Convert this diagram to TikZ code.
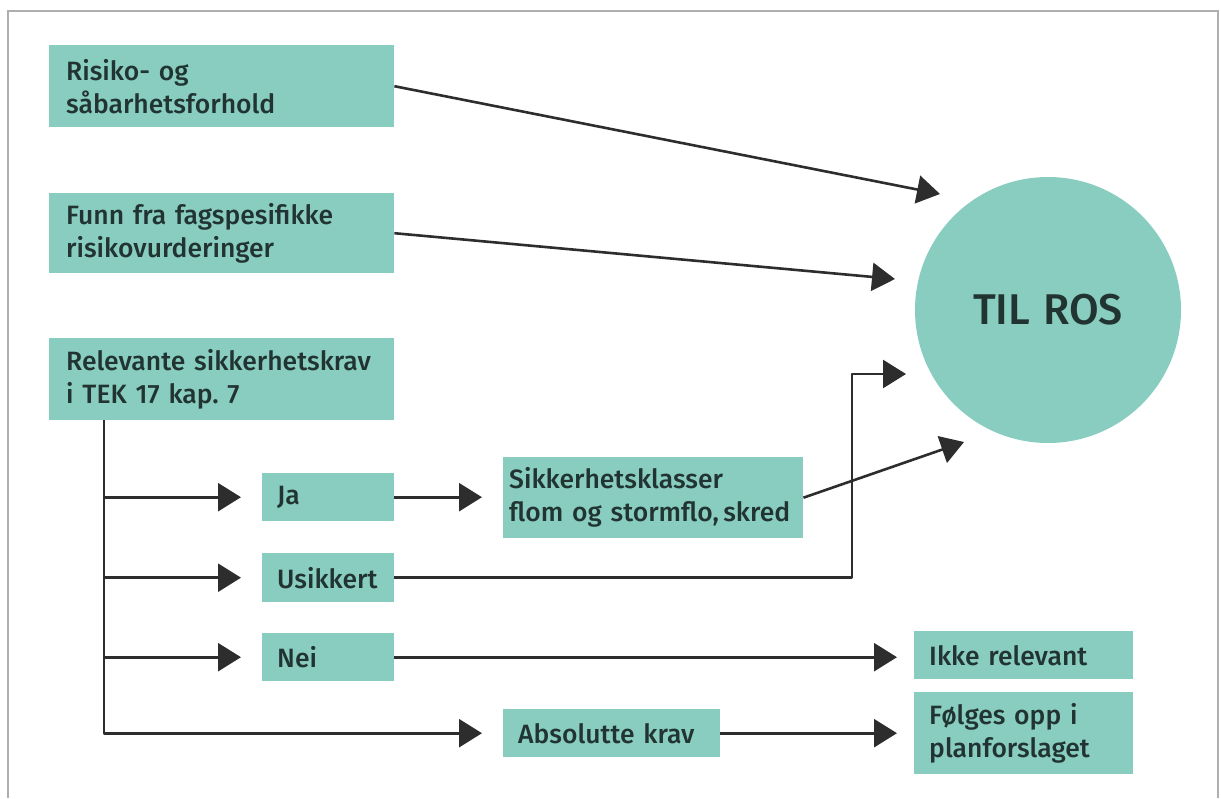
\documentclass[tikz,border=0pt]{standalone}
\usepackage{fontspec}
\setmainfont{Fira Sans Medium}[WordSpace=0.75]
\usetikzlibrary{arrows.meta}
\definecolor{teal1}{RGB}{136,205,192}
\definecolor{ink}{RGB}{33,52,50}
\definecolor{lnc}{RGB}{45,45,45}
\definecolor{frc}{RGB}{175,175,175}
\frenchspacing
\begin{document}
\begin{tikzpicture}[x=1pt,y=-1pt,
  bx/.style={fill=teal1, draw=none, inner xsep=15pt, inner ysep=0pt, align=left,
    text=ink, font=\fontsize{26.5}{33}\selectfont, anchor=north west},
  arr/.style={draw=lnc, line width=2.6pt, line join=round,
    -{Triangle[length=23pt,width=28pt]}},
  frame/.style={draw=frc, line width=1.5pt}]
\useasboundingbox (0,0) rectangle (1221,798);
\draw[frame] (8,798) -- (8,11) -- (1218,11) -- (1218,798);

\node[bx, inner xsep=17pt, text width=311pt, minimum height=82pt] (r1) at (49,45) {Risiko- og\\såbarhetsforhold};
\node[bx, inner xsep=17pt, text width=311pt, minimum height=80pt] (r2) at (49,193) {Funn fra fagspesifikke\\risikovurderinger};
\node[bx, inner xsep=17pt, text width=311pt, minimum height=82pt] (r3) at (49,338) {Relevante sikkerhetskrav\\i TEK 17 kap. 7};
\node[bx, text width=102pt, minimum height=48pt] (ja) at (262,473) {Ja};
\node[bx, text width=102pt, minimum height=49pt] (us) at (262,553) {Usikkert};
\node[bx, text width=102pt, minimum height=48pt] (nei) at (262,633) {Nei};
\node[bx, text width=187pt, minimum height=48pt] (abs) at (503,709) {Absolutte krav};
\node[bx, inner xsep=6pt, text width=288pt, minimum height=81pt] (sk) at (503,457) {Sikkerhetsklasser\\flom og stormflo,\,skred};
\node[bx, text width=189pt, minimum height=48pt] (ikke) at (914,631) {Ikke relevant};
\node[bx, text width=189pt, minimum height=82pt] (folg) at (914,692) {Følges opp i\\planforslaget};
\node[circle, fill=teal1, minimum size=266pt, inner sep=0pt, text=ink,
  font=\fontsize{43}{43}\selectfont] (ros) at (1048,310) {TIL\hspace{0.3em}ROS};

\coordinate (t1) at (940,194);
\coordinate (t2) at (895,279);
\coordinate (uk) at (852,374);
\coordinate (t3) at (906,374);
\coordinate (t4) at (964,442);
\coordinate (tk) at (104,420);

\draw[arr] (r1.east) -- (t1);
\draw[arr] (r2.east) -- (t2);
\draw[arr] (us.east) -| (uk) -- (t3);
\draw[arr] (sk.east) -- (t4);
\draw[arr] (tk) |- ([xshift=-21pt]abs.west);
\draw[arr] (tk |- ja.west) -- ([xshift=-21pt]ja.west);
\draw[arr] (tk |- us.west) -- ([xshift=-21pt]us.west);
\draw[arr] (tk |- nei.west) -- ([xshift=-21pt]nei.west);
\draw[arr] (ja.east) -- ([xshift=-21pt]sk.west |- ja.east);
\draw[arr] (nei.east) -- ([xshift=-17pt]ikke.west |- nei.east);
\draw[arr] (abs.east) -- ([xshift=-17pt]folg.west |- abs.east);
\end{tikzpicture}
\end{document}
